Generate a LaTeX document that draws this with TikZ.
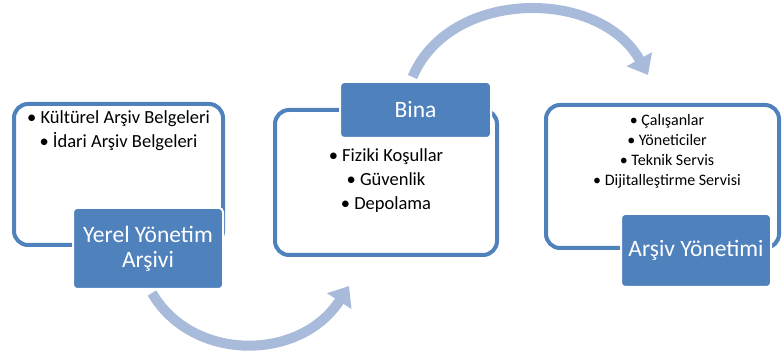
\documentclass[tikz,border=0pt]{standalone}
\usepackage{fontspec}
\setmainfont{Carlito}
\usetikzlibrary{arrows.meta}

\definecolor{kutumavi}{RGB}{79,129,189}
\definecolor{okmavi}{RGB}{168,187,218}

\tikzset{
	cerceve/.style={draw=kutumavi, line width=4pt, rounded corners=14pt, fill=white, inner sep=0pt},
	baslik/.style={fill=kutumavi, draw=white, line width=2pt, rounded corners=4pt, text=white,
		font=\fontsize{23.5}{25}\selectfont, align=center, inner sep=0pt},
	liste/.style={align=center, inner sep=0pt, font=\fontsize{18.5}{24}\selectfont},
	ok/.style={okmavi, line width=10pt, -{Triangle[length=18pt,width=28pt]}}
}

\begin{document}
\begin{tikzpicture}[x=1pt,y=-1pt]
	\useasboundingbox (0,0) rectangle (782,352);
	
	% cerceveler
	\node[cerceve, minimum width=209pt, minimum height=141pt] (yerelkutu) at (118.5,174.5) {};
	\node[cerceve, minimum width=222pt, minimum height=145pt] (binakutu) at (386,182.5) {};
	\node[cerceve, minimum width=233pt, minimum height=143pt] (arsivkutu) at (662.5,176.5) {};
	
	% maddeler
	\node[liste] (yerelliste) at (118.5,131) {• Kültürel Arşiv Belgeleri\\• İdari Arşiv Belgeleri};
	\node[liste] (binaliste) at (386,181) {• Fiziki Koşullar\\• Güvenlik\\• Depolama};
	\node[liste, font=\fontsize{16}{20}\selectfont] (arsivliste) at (667,151)
		{• Çalışanlar\\• Yöneticiler\\• Teknik Servis\\• Dijitalleştirme Servisi};
	
	% basliklar
	\node[baslik, minimum width=150pt, minimum height=81pt] (yerel) at (148,248.5) {Yerel Yönetim\\Arşivi};
	\node[baslik, minimum width=151pt, minimum height=56pt] (bina) at (415.5,110) {Bina};
	\node[baslik, minimum width=150pt, minimum height=73pt] (arsiv) at (696,250.5) {Arşiv Yönetimi};
	
	% oklar
	\coordinate (ok1uc) at (349,286);
	\coordinate (ok2uc) at (648,75);
	\draw[ok] ([xshift=4pt,yshift=-3pt]yerel.south) .. controls (192,362) and (300,362) .. (ok1uc);
	\draw[ok] ([xshift=-3pt,yshift=4pt]bina.north) .. controls (450,-12) and (600,-12) .. (ok2uc);
\end{tikzpicture}
\end{document}
